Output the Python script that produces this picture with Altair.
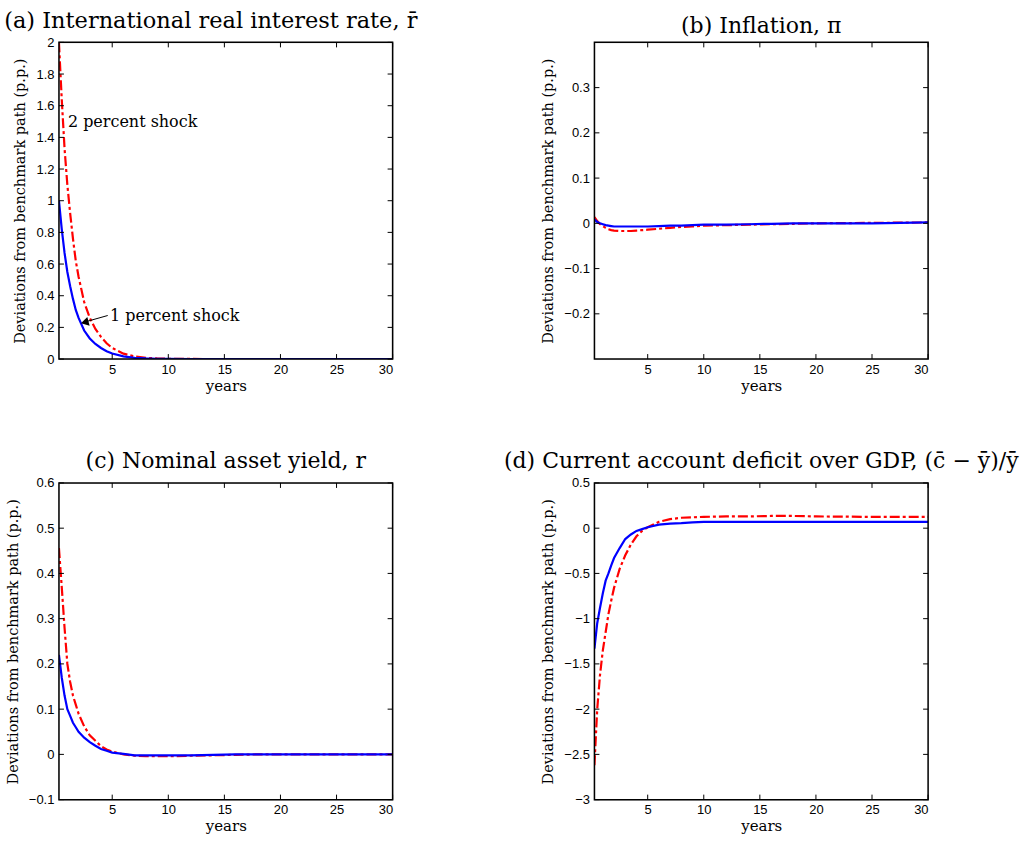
import altair as alt
import pandas as pd

# quarterly-ish grid of years
X = [0.25, 0.5, 0.75, 1.0, 1.25, 1.5, 1.75, 2.0, 2.5, 3.0, 3.5, 4.0, 4.5, 5.0,
     6.0, 7.0, 8.0, 9.0, 10.0, 12.0, 14.0, 16.0, 18.0, 20.0, 25.0, 30.0]

# (a) International real interest rate
a_one = [1.0, 0.82, 0.67, 0.55, 0.46, 0.38, 0.31, 0.26, 0.18, 0.13, 0.095, 0.07, 0.05, 0.035,
         0.017, 0.008, 0.004, 0.002, 0.001, 0, 0, 0, 0, 0, 0, 0]
a_two = [2.0, 1.64, 1.33, 1.1, 0.92, 0.76, 0.62, 0.52, 0.36, 0.26, 0.19, 0.14, 0.1, 0.07,
         0.034, 0.016, 0.008, 0.004, 0.002, 0.001, 0, 0, 0, 0, 0, 0]
# (b) Inflation
b_one = [0.008, 0.003, 0.0, -0.002, -0.004, -0.005, -0.006, -0.007, -0.007, -0.007, -0.007, -0.007, -0.007, -0.007,
         -0.006, -0.005, -0.005, -0.004, -0.003, -0.003, -0.002, -0.001, 0, 0, 0, 0.002]
b_two = [0.014, 0.005, -0.002, -0.006, -0.01, -0.013, -0.015, -0.016, -0.017, -0.017, -0.017, -0.016, -0.015, -0.014,
         -0.012, -0.01, -0.008, -0.007, -0.005, -0.004, -0.003, -0.002, -0.001, 0, 0.001, 0.002]
# (c) Nominal asset yield
c_one = [0.22, 0.17, 0.13, 0.10, 0.085, 0.07, 0.06, 0.05, 0.037, 0.027, 0.019, 0.012, 0.008, 0.004,
         0.001, -0.002, -0.002, -0.002, -0.002, -0.002, -0.001, 0, 0, 0, 0, 0]
c_two = [0.456, 0.37, 0.28, 0.20, 0.16, 0.13, 0.11, 0.09, 0.062, 0.042, 0.03, 0.018, 0.011, 0.006,
         0.0, -0.003, -0.004, -0.004, -0.004, -0.003, -0.002, -0.001, 0, 0, 0, 0]
# (d) Current account deficit over GDP
d_one = [-1.33, -1.05, -0.88, -0.72, -0.58, -0.50, -0.41, -0.33, -0.22, -0.12, -0.07, -0.03, -0.01, 0.01,
         0.04, 0.05, 0.055, 0.065, 0.07, 0.07, 0.07, 0.07, 0.07, 0.07, 0.07, 0.07]
d_two = [-2.62, -2.0, -1.62, -1.35, -1.15, -0.95, -0.8, -0.66, -0.45, -0.30, -0.18, -0.09, -0.03, 0.01,
         0.07, 0.10, 0.115, 0.12, 0.125, 0.13, 0.13, 0.135, 0.135, 0.13, 0.125, 0.125]

x_ticks = [5, 10, 15, 20, 25, 30]
a_ticks = [0, 0.2, 0.4, 0.6, 0.8, 1, 1.2, 1.4, 1.6, 1.8, 2]
b_ticks = [-0.2, -0.1, 0, 0.1, 0.2, 0.3]
c_ticks = [-0.1, 0, 0.1, 0.2, 0.3, 0.4, 0.5, 0.6]
d_ticks = [-3, -2.5, -2, -1.5, -1, -0.5, 0, 0.5]

W, H = 334, 317
SERIF = "DejaVu Serif"
SANS = "Liberation Sans"
TL = 5  # tick length


def panel(title, one, two, ydom, yticks, tsize=22, dx=0, extra=None):
    xs = alt.Scale(domain=[0.25, 30], nice=False, zero=False)
    ys = alt.Scale(domain=ydom, nice=False, zero=False)
    df1 = pd.DataFrame({"x": X, "y": one})
    df2 = pd.DataFrame({"x": X, "y": two})
    red = alt.Chart(df2).mark_line(color="#ff0000", strokeWidth=2.2, strokeDash=[10, 3, 3, 3], clip=True).encode(
        x=alt.X("x:Q", scale=xs, axis=alt.Axis(values=x_ticks, tickCount=40, title="years", ticks=False,
                                               domain=False, grid=False, labelFont=SANS, labelFontSize=13,
                                               labelColor="black", labelPadding=4, labelOverlap=False,
                                               format="~g", titleFont=SERIF, titleFontSize=15,
                                               titleFontWeight="normal", titleColor="black", titlePadding=2)),
        y=alt.Y("y:Q", scale=ys, axis=alt.Axis(values=yticks, tickCount=40,
                                               title="Deviations from benchmark path (p.p.)",
                                               ticks=False, domain=False, grid=False, labelFont=SANS,
                                               labelFontSize=13, labelColor="black", labelPadding=5,
                                               labelOverlap=False, format="~g",
                                               titleFont=SERIF, titleFontSize=14.5, titleFontWeight="normal",
                                               titleColor="black", titlePadding=8)),
    )
    blue = alt.Chart(df1).mark_line(color="#0000ff", strokeWidth=2.2, clip=True).encode(
        x=alt.X("x:Q", scale=xs), y=alt.Y("y:Q", scale=ys))
    xt = pd.DataFrame({"x": x_ticks})
    yt = pd.DataFrame({"y": yticks})
    tb = alt.Chart(xt).mark_rule(color="black", strokeWidth=1).encode(
        x=alt.X("x:Q", scale=xs), y=alt.value(H), y2=alt.value(H - TL))
    tt = alt.Chart(xt).mark_rule(color="black", strokeWidth=1).encode(
        x=alt.X("x:Q", scale=xs), y=alt.value(0), y2=alt.value(TL))
    tl = alt.Chart(yt).mark_rule(color="black", strokeWidth=1).encode(
        y=alt.Y("y:Q", scale=ys), x=alt.value(0), x2=alt.value(TL))
    tr = alt.Chart(yt).mark_rule(color="black", strokeWidth=1).encode(
        y=alt.Y("y:Q", scale=ys), x=alt.value(W), x2=alt.value(W - TL))
    frame = alt.Chart(pd.DataFrame({"k": [0]})).mark_rect(
        fill="white", fillOpacity=0, stroke="black", strokeWidth=1.5).encode(
        x=alt.value(0), x2=alt.value(W), y=alt.value(0), y2=alt.value(H))
    layers = [red, blue, tb, tt, tl, tr]
    if extra:
        layers += extra(xs, ys)
    layers.append(frame)
    return alt.layer(*layers).properties(
        width=W, height=H,
        title=alt.TitleParams(title, font=SERIF, fontSize=tsize, fontWeight="normal", color="black",
                              anchor="middle", offset=4, dx=dx))


# annotation in panel (a)
ann_text = ["2 percent shock", "1 percent shock"]
ann_x = [1.05, 4.8]
ann_y = [1.5, 0.27]
arrow_x = [4.6, 2.6]
arrow_y = [0.275, 0.235]
head_x = [2.55]
head_y = [0.232]


def annot(xs, ys):
    t = alt.Chart(pd.DataFrame({"x": ann_x, "y": ann_y, "t": ann_text})).mark_text(
        align="left", baseline="middle", font=SERIF, fontSize=16, color="black").encode(
        x=alt.X("x:Q", scale=xs), y=alt.Y("y:Q", scale=ys), text="t:N")
    ln = alt.Chart(pd.DataFrame({"x": arrow_x, "y": arrow_y})).mark_line(color="black", strokeWidth=1).encode(
        x=alt.X("x:Q", scale=xs), y=alt.Y("y:Q", scale=ys))
    hd = alt.Chart(pd.DataFrame({"x": head_x, "y": head_y})).mark_point(
        shape="triangle-left", filled=True, color="black", size=80, angle=345, opacity=1).encode(
        x=alt.X("x:Q", scale=xs), y=alt.Y("y:Q", scale=ys))
    return [ln, hd, t]


pa = panel("(a) International real interest rate, r\u0304", a_one, a_two, [0, 2], a_ticks,
           tsize=22.5, dx=-15, extra=annot)
pb = panel("(b) Inflation, \u03c0", b_one, b_two, [-0.3, 0.4], b_ticks)
pc = panel("(c) Nominal asset yield, r", c_one, c_two, [-0.1, 0.6], c_ticks)
pd_ = panel("(d) Current account deficit over GDP, (c\u0304 \u2212 y\u0304)/y\u0304", d_one, d_two, [-3, 0.5],
            d_ticks)

chart = alt.concat(
    pa, pb, pc, pd_, columns=2, spacing=alt.RowColnumber(row=124, column=202), bounds="flush",
).properties(padding={"left": 3, "top": 9, "right": 2, "bottom": 2}).configure_view(
    stroke="transparent").configure(background="white")

chart.save("out.html", embed_options={"renderer": "svg", "actions": False})
